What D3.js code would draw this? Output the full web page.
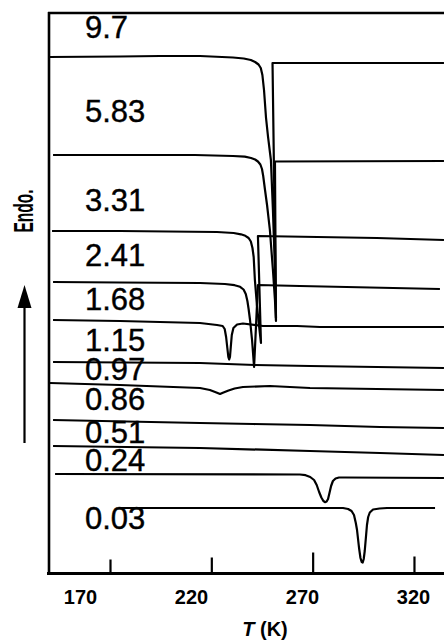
<!DOCTYPE html>
<html>
<head>
<meta charset="utf-8">
<script src="https://cdn.jsdelivr.net/npm/d3@7/dist/d3.min.js"></script>
<style>
  html, body { margin: 0; padding: 0; background: #fff; }
  svg { display: block; }
  text { font-family: "Liberation Sans", Arial, Helvetica, sans-serif; fill: #000; }
</style>
</head>
<body>
<svg id="chart" width="444" height="642"></svg>
<script>
// DSC cooling traces, stacked by water content (g/g). Signal in arbitrary units.
const waterContents = ["9.7", "5.83", "3.31", "2.41", "1.68", "1.15", "0.97", "0.86", "0.51", "0.24", "0.03"];
const temperatureTicks = [170, 220, 270, 320];

// [T (K), heat flow (a.u.)]
const trace9_7 = [[139.9, 516], [174.9, 516.5], [194.7, 517], [214.4, 517], [230.7, 515.5], [236.0, 514.5],
  [239.5, 513], [241.6, 511], [243.3, 508.5], [244.4, 505], [245.2, 498], [246.0, 483], [247.0, 455],
  [248.0, 436], [249.4, 413], [250.4, 363], [251.4, 303], [251.9, 255], [250.2, 510], [334.8, 510]];
const trace5_83 = [[141.9, 418], [174.9, 418], [211.9, 418], [230.7, 417], [236.5, 416.3], [239.6, 415],
  [241.6, 413.5], [243.0, 411.5], [244.2, 408.5], [245.0, 404], [245.6, 397], [246.5, 383], [247.5, 368],
  [248.9, 343], [250.4, 303], [251.4, 273], [251.9, 252], [251.4, 411.5], [334.8, 412]];
const trace3_31 = [[141.4, 342], [174.9, 342], [222.8, 341], [231.0, 340], [234.6, 338.7], [236.8, 337.2],
  [238.4, 335], [239.5, 331.5], [240.3, 325], [240.9, 316], [241.5, 293], [242.5, 268], [243.5, 248],
  [244.5, 230], [243.0, 337], [301.7, 335], [334.8, 333]];
const trace2_41 = [[141.9, 291], [174.9, 290.5], [214.4, 290], [226.7, 289], [231.5, 287.8], [234.2, 286.2],
  [235.9, 283.5], [237.0, 279], [237.8, 272], [238.4, 264], [239.1, 253], [240.1, 233], [241.1, 206],
  [243.0, 288], [263.7, 287], [332.8, 284]];
const trace1_68 = [[141.9, 253], [174.9, 252], [214.4, 250], [222.8, 248], [225.6, 247], [226.6, 244],
  [227.3, 236], [227.9, 225], [228.4, 216], [228.8, 213.5], [229.2, 216], [229.6, 226], [230.1, 238],
  [230.9, 245], [232.7, 248.5], [235.6, 249.5], [245.5, 247], [262.3, 247], [273.6, 246], [334.8, 246]];
const trace1_15 = [[141.9, 211], [214.4, 210], [241.5, 208], [268.7, 207], [334.8, 205]];
const trace0_97 = [[140.4, 190], [174.9, 188], [214.4, 185], [219.3, 183], [222.5, 180.5], [224.3, 179],
  [226.0, 180.5], [228.5, 182.5], [231.5, 184.5], [235.6, 186], [248.9, 187], [268.7, 185], [334.8, 183]];
const trace0_86 = [[141.9, 153], [214.4, 150], [240.6, 149], [268.7, 148], [303.2, 146], [334.8, 145]];
const trace0_51 = [[141.9, 127], [214.4, 125], [268.7, 122], [303.2, 120], [334.8, 118]];
const trace0_24 = [[142.9, 99], [263.7, 98.5], [266.5, 97.8], [268.8, 96], [270.7, 93], [272.0, 88],
  [273.2, 81], [274.3, 75.5], [275.3, 72], [276.1, 70.8], [276.9, 71.5], [277.6, 74], [278.3, 80],
  [279.1, 87], [280.0, 92], [281.3, 94.5], [283.0, 95.5], [286.0, 95.5], [334.8, 95]];
const trace0_03 = [[174.9, 65], [285.0, 65], [287.5, 64], [289.2, 62], [290.4, 58], [291.3, 50],
  [291.9, 43], [292.9, 25], [293.6, 15], [294.2, 11], [294.7, 10.5], [295.2, 14], [295.7, 22],
  [296.3, 36], [296.8, 48], [297.4, 56], [298.2, 60.5], [299.8, 63.5], [303.0, 64.5], [306.7, 65],
  [330.4, 65]];

const traces = [trace9_7, trace5_83, trace3_31, trace2_41, trace1_68, trace1_15,
  trace0_97, trace0_86, trace0_51, trace0_24, trace0_03];

// layout
const labelBaselines = [38, 122, 211, 266, 310, 351, 380, 410, 443, 471, 529];
const tickHeights = [14, 16, 21, 17];

const svg = d3.select("#chart");

const x = d3.scaleLinear().domain([140, 336]).range([49.2, 446.4]);
const y = d3.scaleLinear().domain([0, 560]).range([573, 13]);
// tick labels sit on their own spacing along the axis
const labelX = d3.scaleLinear().domain([170, 320]).range([80, 413]);

const axisY = 573.5;

// frame: left axis, top border
svg.append("line").attr("x1", 49).attr("x2", 49).attr("y1", 12).attr("y2", axisY + 1)
  .attr("stroke", "#000").attr("stroke-width", 2.6);
svg.append("line").attr("x1", 48).attr("x2", 446).attr("y1", 13).attr("y2", 13)
  .attr("stroke", "#000").attr("stroke-width", 2.6);

// bottom temperature axis
const axis = d3.axisBottom(x).tickValues(temperatureTicks).tickSizeInner(-16).tickSizeOuter(0)
  .tickFormat(d3.format("d"));
const gx = svg.append("g").attr("transform", `translate(0,${axisY})`).call(axis);
gx.select(".domain").remove();
gx.append("line").attr("x1", 47).attr("x2", 446).attr("y1", 0).attr("y2", 0)
  .attr("stroke", "#000").attr("stroke-width", 2.8);
gx.selectAll(".tick line").attr("stroke", "#000").attr("stroke-width", 2.2)
  .attr("y2", (d, i) => -tickHeights[i]);
gx.selectAll(".tick text")
  .attr("x", d => labelX(d) - x(d))
  .attr("y", 30.5).attr("dy", 0)
  .style("font-size", "20px").style("font-weight", "bold")
  .style("font-family", "'Liberation Sans', Arial, sans-serif").attr("fill", "#000");

// axis title
const title = svg.append("text").attr("x", 265).attr("y", 636).attr("text-anchor", "middle")
  .style("font-size", "20px").style("font-weight", "bold");
title.append("tspan").style("font-style", "italic").text("T");
title.append("tspan").text(" (K)");

// endotherm direction
svg.append("text").attr("transform", "translate(33,211) rotate(-90)")
  .attr("text-anchor", "middle").style("font-size", "28px").style("font-weight", "bold")
  .attr("textLength", 43).attr("lengthAdjust", "spacingAndGlyphs").text("Endo.");
svg.append("line").attr("x1", 24.5).attr("x2", 24.5).attr("y1", 300).attr("y2", 443)
  .attr("stroke", "#000").attr("stroke-width", 2.2);
svg.append("path").attr("d", "M24.5,285 L31.5,308 L17.5,308 Z").attr("fill", "#000");

// water content labels
svg.append("g").selectAll("text").data(waterContents).join("text")
  .attr("x", 85).attr("y", (d, i) => labelBaselines[i])
  .style("font-size", "31px").attr("stroke", "#000").attr("stroke-width", 0.4)
  .text(d => d);

// traces
const line = d3.line().x(d => x(d[0])).y(d => y(d[1])).curve(d3.curveLinear);
svg.append("g").selectAll("path").data(traces).join("path")
  .attr("d", line).attr("fill", "none").attr("stroke", "#000")
  .attr("stroke-width", 2.2).attr("stroke-linejoin", "round");
</script>
</body>
</html>
